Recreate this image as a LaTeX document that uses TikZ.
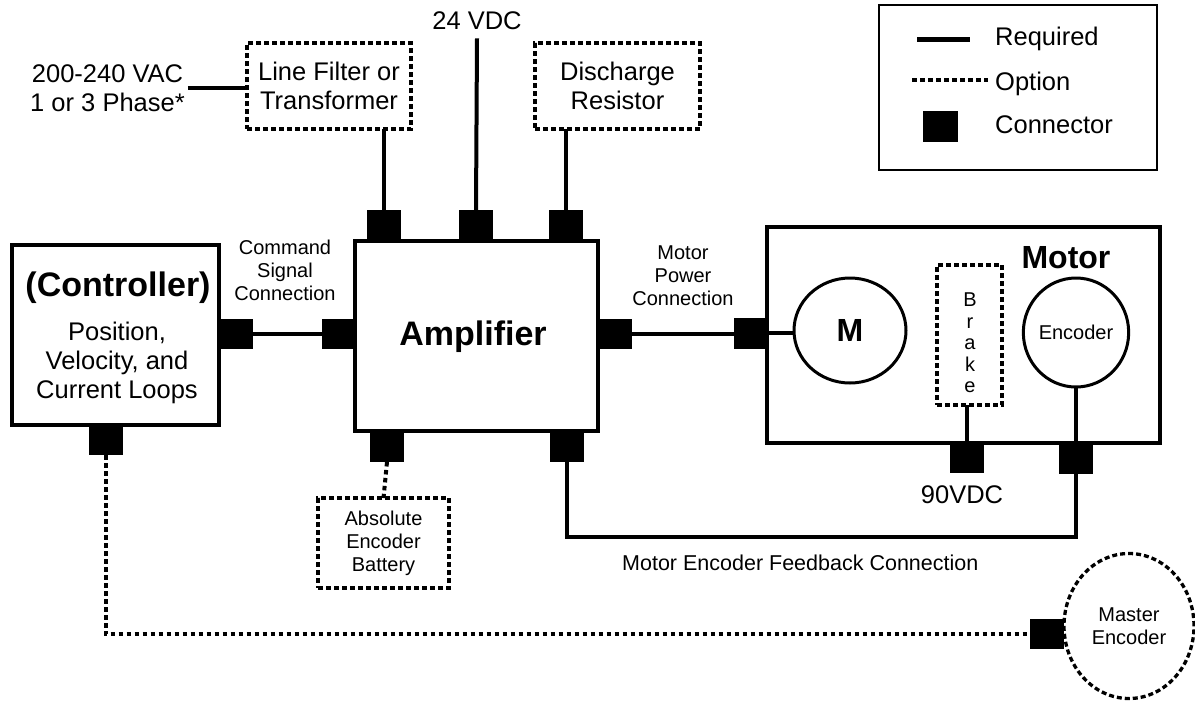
\documentclass[tikz,border=0pt]{standalone}
\usepackage{fontspec}
\setmainfont{Liberation Sans}
\usetikzlibrary{shapes.geometric}
\begin{document}
\begin{tikzpicture}[x=1pt,y=-1pt,
  conn/.style={fill=black,draw=none,minimum width=34pt,minimum height=30pt,inner sep=0pt,outer sep=0pt},
  sbox/.style={draw,line width=3.3pt,inner sep=0pt,outer sep=0pt},
  obox/.style={draw,line width=3.3pt,dash pattern=on 5pt off 3pt,inner sep=0pt,outer sep=0pt},
  wire/.style={line width=4pt},
  owire/.style={line width=4pt,dash pattern=on 4.5pt off 3.5pt},
  big/.style={font=\fontsize{25.5}{29}\selectfont,inner sep=0pt},
  small/.style={font=\fontsize{20}{23}\selectfont,inner sep=0pt,align=center},
  head/.style={font=\fontsize{34}{38}\selectfont\bfseries,inner sep=0pt},
]
\path[use as bounding box] (0,0) rectangle (1195,702);

% ---------- legend ----------
\node[draw,line width=2.5pt,minimum width=278pt,minimum height=165pt,inner sep=0pt] (leg) at (1018,87.5) {};
\coordinate (lra) at (917,39);
\coordinate (lrb) at (970,39);
\draw[line width=5pt] (lra) -- (lrb);
\coordinate (loa) at (912,80);
\coordinate (lob) at (988,80);
\draw[owire] (loa) -- (lob);
\node[conn,minimum width=35pt,minimum height=31pt] (lconn) at (940.5,126.5) {};
\node[big,anchor=base west] (lreq) at (995,45) {Required};
\node[big,anchor=base west] (lopt) at (995,90) {Option};
\node[big,anchor=base west] (lcon) at (995,133) {Connector};

% ---------- top sources ----------
\node[big,align=center] (acin) at (107.5,88) {200-240 VAC\\1 or 3 Phase*};
\node[obox,big,align=center,minimum width=164pt,minimum height=86pt] (filter) at (329,86) {Line Filter or\\Transformer};
\node[big,anchor=base] (v24) at (477,29) {24 VDC};
\node[obox,big,align=center,minimum width=165pt,minimum height=86pt] (disch) at (617.5,86) {Discharge\\Resistor};

% ---------- controller ----------
\node[sbox,minimum width=207pt,minimum height=180pt] (ctrl) at (115.5,335) {};
\node[head,anchor=base] (ctrlt) at (118,296) {(Controller)};
\node[big,align=center] (ctrlx) at (117,362.5) {Position,\\Velocity, and\\Current Loops};
\node[conn] (cCR) at (236,334) {};
\node[conn] (cCB) at (105.5,440) {};

% ---------- amplifier ----------
\node[sbox,minimum width=243pt,minimum height=190pt] (amp) at (476.5,336) {};
\node[head,anchor=base] (ampt) at (473,345) {Amplifier};
\node[conn,minimum height=31pt] (cA1) at (383.5,225.5) {};
\node[conn,minimum height=31pt] (cA2) at (476,225.5) {};
\node[conn,minimum height=31pt] (cA3) at (566,225.5) {};
\node[conn] (cAL) at (338.5,334) {};
\node[conn] (cAR) at (615,334) {};
\node[conn,minimum height=31pt] (cAB1) at (387,446.5) {};
\node[conn,minimum height=31pt] (cAB2) at (567,446.5) {};
\node[small] (cmdt) at (285,270) {Command\\Signal\\Connection};

% ---------- motor ----------
\node[sbox,minimum width=393pt,minimum height=216pt] (motor) at (963.5,335) {};
\node[font=\fontsize{32}{36}\selectfont\bfseries,inner sep=0pt,anchor=base] (motort) at (1066,268) {Motor};
\node[ellipse,draw,line width=3pt,minimum width=112pt,minimum height=105pt,inner sep=0pt,outer sep=0pt,
      font=\fontsize{32}{36}\selectfont\bfseries] (M) at (850,330.5) {M};
\node[obox,minimum width=65pt,minimum height=140pt] (brake) at (969.5,335) {};
\node[font=\fontsize{20}{21.5}\selectfont,align=center,inner sep=0pt] (braket) at (970,343) {B\\r\\a\\k\\e};
\node[ellipse,draw,line width=3pt,minimum width=97pt,minimum height=109pt,inner sep=0pt,outer sep=0pt,
      font=\fontsize{20}{23}\selectfont] (enc) at (1076,332.5) {Encoder};
\node[conn,minimum height=31pt] (cML) at (751,333) {};
\node[conn] (cMB1) at (967,458) {};
\node[conn] (cMB2) at (1076,459) {};
\node[small] (mpct) at (683,275.5) {Motor\\Power\\Connection};
\node[big,anchor=base] (v90) at (962,503) {90VDC};

% ---------- bottom ----------
\node[obox,small,minimum width=131pt,minimum height=90pt] (batt) at (383.5,543) {Absolute\\Encoder\\Battery};
\node[font=\fontsize{21.5}{24}\selectfont,inner sep=0pt,anchor=base west] (fbt) at (622,570) {Motor Encoder Feedback Connection};
\node[ellipse,obox,minimum width=130pt,minimum height=145pt,small] (master) at (1129,626) {Master\\Encoder};
\node[conn] (cMaster) at (1047,634) {};
\coordinate (fbrow) at (0,537);

% ---------- wires ----------
\draw[wire] ([xshift=3pt]acin.east) -- (acin.east -| filter.west);
\draw[wire] (cA1.north) -- (cA1.north |- filter.south);
\draw[wire] (cA2.north) -- ([yshift=-9pt]v24.south);
\draw[wire] (cA3.north) -- (cA3.north |- disch.south);
\draw[wire] (cCR.east) -- (cAL.west);
\draw[wire] (cAR.east) -- (cAR.east -| cML.west);
\draw[wire] (cML.east) -- (cML.east -| M.west);
\draw[line width=3.3pt] (cMB1.north) -- (cMB1.north |- brake.south);
\draw[line width=3.3pt] (cMB2.north) -- (enc.south);
\draw[wire] (cMB2.south) -- (cMB2.south |- fbrow) -- (cAB2.south |- fbrow) -- (cAB2.south);
\draw[owire] (cAB1.south) -- (batt.north);
\draw[owire] (cCB.south) |- (cMaster.west);
\end{tikzpicture}
\end{document}
